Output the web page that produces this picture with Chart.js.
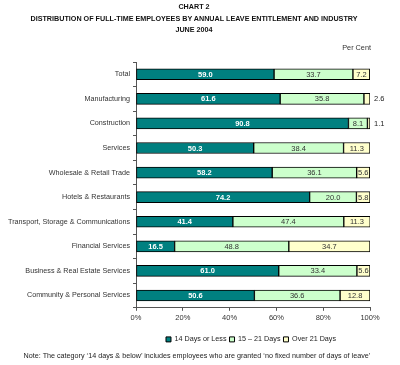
<!DOCTYPE html>
<html>
<head>
<meta charset="utf-8">
<script src="https://cdn.jsdelivr.net/npm/chart.js@4.4.1/dist/chart.umd.min.js"></script>
<style>
  body{margin:0;background:#fff;font-family:"Liberation Sans",Arial,sans-serif}
  #wrap{position:relative;width:400px;height:365px}
  #c{position:absolute;left:0;top:0}
  .t{position:absolute;left:0;width:388px;text-align:center;font-weight:bold;font-size:7.2px;color:#111}
  .pc{position:absolute;right:29px;top:43px;font-size:7.3px;color:#333}
  .note{position:absolute;left:0;width:394px;top:351px;text-align:center;font-size:7.2px;color:#222}
</style>
</head>
<body>
<div id="wrap">
  <canvas id="c" width="400" height="365"></canvas>
  <div class="t" style="top:2px">CHART 2</div>
  <div class="t" style="top:14px">DISTRIBUTION OF FULL-TIME EMPLOYEES BY ANNUAL LEAVE ENTITLEMENT AND INDUSTRY</div>
  <div class="t" style="top:25px">JUNE 2004</div>
  <div class="pc">Per Cent</div>
  <div class="note">Note: The category ‘14 days &amp; below’ includes employees who are granted ‘no fixed number of days of leave’</div>
</div>
<script>
const industries = ['Total', 'Manufacturing', 'Construction', 'Services', 'Wholesale & Retail Trade',
  'Hotels & Restaurants', 'Transport, Storage & Communications', 'Financial Services',
  'Business & Real Estate Services', 'Community & Personal Services'];
const seriesNames = ['14 Days or Less', '15 \u2013 21 Days', 'Over 21 Days'];
const days14OrLess = [59.0, 61.6, 90.8, 50.3, 58.2, 74.2, 41.4, 16.5, 61.0, 50.6];
const days15to21 = [33.7, 35.8, 8.1, 38.4, 36.1, 20.0, 47.4, 48.8, 33.4, 36.6];
const over21 = [7.2, 2.6, 1.1, 11.3, 5.6, 5.8, 11.3, 34.7, 5.6, 12.8];
const xTicks = [0, 20, 40, 60, 80, 100];

const FONT = '"Liberation Sans", Arial, sans-serif';
const colors = ['#008080', '#CCFFCC', '#FFFFCC'];

// 値ラベル（小さい区間は棒の外側に出す）
const valueLabels = {
  id: 'valueLabels',
  afterDatasetsDraw(chart) {
    const ctx = chart.ctx;
    ctx.save();
    ctx.textBaseline = 'middle';
    chart.data.datasets.forEach((ds, di) => {
      const meta = chart.getDatasetMeta(di);
      meta.data.forEach((bar, i) => {
        const v = ds.data[i];
        const w = Math.abs(bar.x - bar.base);
        const txt = v.toFixed(1);
        ctx.font = (di === 0 ? 'bold ' : '') + '7.5px ' + FONT;
        const tw = ctx.measureText(txt).width;
        if (tw > w + 1) {
          ctx.fillStyle = '#222';
          ctx.textAlign = 'left';
          ctx.fillText(txt, bar.x + 4, bar.y + 0.5);
        } else {
          ctx.fillStyle = di === 0 ? '#fff' : '#333';
          ctx.textAlign = 'center';
          ctx.fillText(txt, (bar.x + bar.base) / 2, bar.y + 0.5);
        }
      });
    });
    ctx.restore();
  }
};

// 凡例を右へずらす（元図は中央より右寄り）
const legendShift = {
  id: 'legendShift',
  afterLayout(chart) {
    const lg = chart.legend;
    if (!lg) return;
    lg.left += 66;
    lg.right += 66;
  }
};

const data = [days14OrLess, days15to21, over21];

new Chart(document.getElementById('c'), {
  type: 'bar',
  data: {
    labels: industries,
    datasets: seriesNames.map((name, k) => ({
      label: name,
      data: data[k],
      backgroundColor: colors[k],
      borderColor: '#000',
      borderWidth: 1,
      borderSkipped: false,
      barThickness: 11
    }))
  },
  options: {
    indexAxis: 'y',
    responsive: false,
    animation: false,
    layout: { padding: { top: 62, right: 30, bottom: 12, left: 0 } },
    plugins: {
      legend: {
        position: 'bottom',
        align: 'center',
        labels: {
          font: { size: 7.2, family: FONT },
          color: '#222',
          boxWidth: 5,
          boxHeight: 5,
          padding: 3,
          useBorderRadius: false
        }
      },
      tooltip: { enabled: false }
    },
    scales: {
      x: {
        stacked: true,
        min: 0, max: 100,
        afterBuildTicks: s => { s.ticks = xTicks.map(v => ({ value: v })); },
        afterFit: s => { s.height = 25; },
        ticks: { font: { size: 7.5, family: FONT }, color: '#333', padding: 3, callback: v => v + '%' },
        grid: { drawOnChartArea: false, tickLength: 3, color: '#555' },
        border: { color: '#555' }
      },
      y: {
        stacked: true,
        afterFit: s => { s.width = 136; },
        ticks: { font: { size: 7.2, family: FONT }, color: '#333', padding: 3 },
        grid: { drawOnChartArea: false, tickLength: 3, color: '#555', offset: true },
        border: { color: '#555' }
      }
    }
  },
  plugins: [valueLabels, legendShift]
});
</script>
</body>
</html>
